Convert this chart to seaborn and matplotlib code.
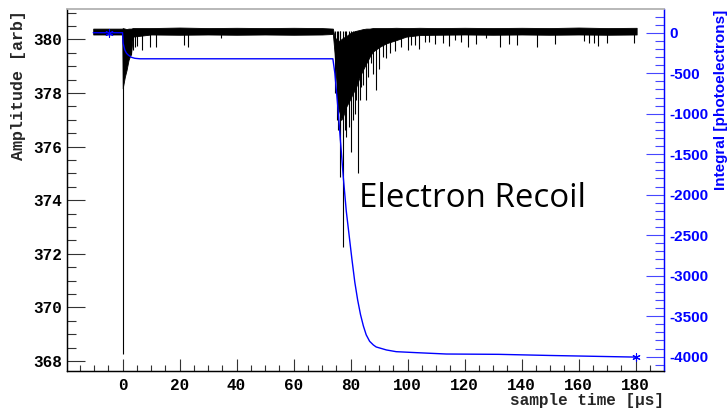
import matplotlib
matplotlib.use("Agg")
import matplotlib.pyplot as plt
import seaborn as sns
import pandas as pd
from matplotlib.ticker import MultipleLocator

# ---------------- data ----------------
# envelope of the dense black waveform band  [time us, amplitude]
env_t = [-10.3, -0.1, 0.05, 0.8, 1.4, 2.1, 3.0, 3.6, 10, 20, 30, 40, 50, 60, 70,
         73.8, 74.4, 75.0, 75.6, 76.2, 76.7, 77.3, 78.5, 79.7, 80.8, 82.0, 83.2,
         84.3, 85.5, 86.7, 87.8, 90.2, 92.5, 96.0, 99.5, 104.2, 110, 120, 130,
         140, 150, 160, 170, 180.4]
env_upper = [380.40, 380.40, 380.42, 380.40, 380.38, 380.40, 380.40, 380.42, 380.42,
             380.44, 380.42, 380.43, 380.42, 380.43, 380.42,
             380.40, 380.10, 380.00, 379.95, 379.95, 380.00, 380.05, 380.12, 380.22,
             380.28, 380.32, 380.35, 380.38, 380.40, 380.40, 380.42, 380.42, 380.42,
             380.43, 380.42, 380.43, 380.42, 380.43, 380.42, 380.43, 380.42, 380.44,
             380.42, 380.43]
env_lower = [380.18, 380.18, 378.17, 378.60, 378.85, 379.23, 379.48, 380.10, 380.18,
             380.17, 380.18, 380.17, 380.18, 380.17, 380.18,
             380.20, 379.48, 378.48, 377.49, 377.24, 376.99, 377.10, 377.49, 377.73,
             377.98, 378.23, 378.60, 378.85, 379.10, 379.35, 379.54, 379.72, 379.85,
             379.97, 380.10, 380.16, 380.17, 380.18, 380.17, 380.18, 380.17, 380.18,
             380.17, 380.18]

# individual downward spikes of the waveform  [time us, minimum amplitude]
spike_t = [0.0, 2.9, 3.7, 4.5, 5.2, 6.9, 9.6, 11.9, 21.6, 23.0, 34.7,
           74.6, 75.2, 75.6, 76.2, 76.45, 77.35, 77.9, 78.5, 79.5, 80.05, 80.9,
           81.7, 82.0, 82.6, 83.4, 83.8, 84.4, 85.5, 86.3, 87.3, 88.0, 89.0, 90.0,
           91.4, 92.6, 94.0, 95.5, 97.8, 100.1, 101.3, 102.5, 104.0, 106.0, 107.7,
           109.5, 112.4, 114.5, 116.5, 118.6, 121.2, 123.9, 127.4, 132.4, 135.7,
           138.4, 145.6, 151.9, 161.9, 163.6, 165.3, 167.0, 169.9, 179.6]
spike_min = [368.25, 379.40, 379.60, 379.70, 379.75, 379.62, 379.70, 379.70, 379.78,
             379.72, 380.05,
             378.00, 377.00, 376.60, 376.24, 374.87, 372.26, 376.60, 376.37, 376.74,
             375.80, 376.99, 377.20, 377.73, 375.00, 377.73, 378.23, 378.30, 377.73,
             378.60, 379.10, 378.70, 378.10, 378.90, 379.35, 379.30, 379.50, 379.55,
             379.72, 379.60, 379.79, 379.79, 379.63, 379.91, 379.91, 379.82, 379.87,
             379.75, 379.97, 379.90, 379.72, 379.82, 380.04, 379.70, 379.82, 379.78,
             379.72, 379.82, 379.93, 379.88, 379.88, 379.75, 379.88, 379.85]
baseline = 380.30

# running integral [photoelectrons]
integral_t = [-10.3, 0.0, 0.2, 0.8, 1.4, 2.0, 3.15, 4.3, 6.1, 20, 40, 60, 73.8,
              74.5, 75.5, 76.5, 77.5, 78.5, 79.5, 80.5, 81.5, 82.5, 83.5, 84.5,
              85.5, 86.7, 88.0, 89.0, 92.6, 96.0, 103.0, 113.6, 132.0, 150.0,
              165.0, 180.0]
integral_v = [0, 0, -131, -214, -254, -275, -304, -316, -322, -322, -322, -322, -322,
              -500, -900, -1350, -1800, -2200, -2500, -2800, -3080, -3300, -3480,
              -3620, -3730, -3810, -3855, -3880, -3917, -3938, -3950, -3967, -3971,
              -3985, -3995, -4005]
marker_t = [-4.7, 180.0]
marker_v = [0, -4005]

annotation = "Electron Recoil"
xlabel = "sample time [µs]"
ylabel = "Amplitude [arb]"
y2label = "Integral [photoelectrons]"

# ---------------- styling ----------------
sns.set_style("ticks")
plt.rcParams["axes.unicode_minus"] = False
plt.rcParams["font.family"] = ["DejaVu Sans"]

W, H = 728, 409
fig = plt.figure(figsize=(W / 100, H / 100), dpi=100)
L, R, T, B = 66.7, 664.0, 9.3, 370.7
ax = fig.add_axes([L / W, 1 - B / H, (R - L) / W, (B - T) / H])
ax.set_xlim(-19.6, 190)
ax.set_ylim(367.64, 381.12)

blue = "#0000ff"
tickblue = "#4646ff"

# waveform band and spikes
ax.fill_between(env_t, env_lower, env_upper, color="black", lw=0.6, edgecolor="black")
ax.vlines(spike_t, spike_min, baseline, color="black", lw=0.8)

# right axis: integral
ax2 = ax.twinx()
ax2.set_ylim(-4173, 289)
df = pd.DataFrame({"t": integral_t, "v": integral_v})
sns.lineplot(data=df, x="t", y="v", ax=ax2, color=blue, lw=1.0, estimator=None,
             sort=False)
ax2.scatter(marker_t, marker_v, marker=(6, 2, 0), s=28, color=blue, linewidths=0.8)
ax2.set_xlabel("")
ax2.set_ylabel("")
ax.set_xlabel("")
ax.set_ylabel("")

# spines
for a in (ax, ax2):
    a.spines["top"].set_color("#b8b8b8")
    a.spines["top"].set_visible(True)
    a.spines["left"].set_color("black")
    a.spines["bottom"].set_color("black")
    a.spines["right"].set_color(blue)
    for s in a.spines.values():
        s.set_linewidth(0.9)
    a.spines["top"].set_linewidth(1.2)

mono = "Liberation Mono"
sans = "Liberation Sans"

# left / bottom ticks
ax.yaxis.set_major_locator(MultipleLocator(2))
ax.yaxis.set_minor_locator(MultipleLocator(0.5))
ax.xaxis.set_major_locator(MultipleLocator(20))
ax.xaxis.set_minor_locator(MultipleLocator(5))
ax.tick_params(axis="y", which="major", direction="in", length=13, width=0.8,
               color="#333333", pad=3.6, left=True, right=False)
ax.tick_params(axis="y", which="minor", direction="in", length=6.5, width=0.8,
               color="#333333", left=True, right=False)
ax.tick_params(axis="x", which="major", direction="in", length=8.6, width=0.8,
               color="#333333", pad=5.3, top=False)
ax.tick_params(axis="x", which="minor", direction="in", length=4.3, width=0.8,
               color="#333333", top=False)
for lab in ax.get_yticklabels() + ax.get_xticklabels():
    lab.set_fontfamily(mono)
    lab.set_fontweight("bold")
    lab.set_fontsize(11.5)
    lab.set_color("black")

# right ticks
ax2.yaxis.set_major_locator(MultipleLocator(500))
ax2.yaxis.set_minor_locator(MultipleLocator(100))
ax2.tick_params(axis="y", which="major", direction="in", length=13, width=0.8,
                color=tickblue, pad=3.6, labelcolor=blue, left=False, right=True)
ax2.tick_params(axis="y", which="minor", direction="in", length=6.5, width=0.8,
                color=tickblue, left=False, right=True)
ax2.tick_params(axis="x", which="both", bottom=False, top=False)
for lab in ax2.get_yticklabels():
    lab.set_fontfamily(sans)
    lab.set_fontweight("bold")
    lab.set_fontsize(11)

# axis titles
fig.text(18.3 / W, 1 - 10 / H, ylabel, rotation=90, ha="center", va="top",
         fontfamily=mono, fontweight="bold", fontsize=12)
fig.text(R / W, 1 - 400 / H, xlabel, ha="right", va="center",
         fontfamily=mono, fontweight="bold", fontsize=11.5)
fig.text(720.5 / W, 1 - 10 / H, y2label, rotation=90, ha="center", va="top",
         fontfamily=sans, fontweight="bold", fontsize=11, color=blue)

# annotation
txt = fig.text(359 / W, 1 - 206.7 / H, annotation, ha="left", va="baseline",
               fontfamily="Open Sans", fontsize=24, color="black")
fig.canvas.draw()
w = txt.get_window_extent().width
txt.set_fontsize(24 * 227.0 / w)

fig.savefig("out.png", dpi=100)
